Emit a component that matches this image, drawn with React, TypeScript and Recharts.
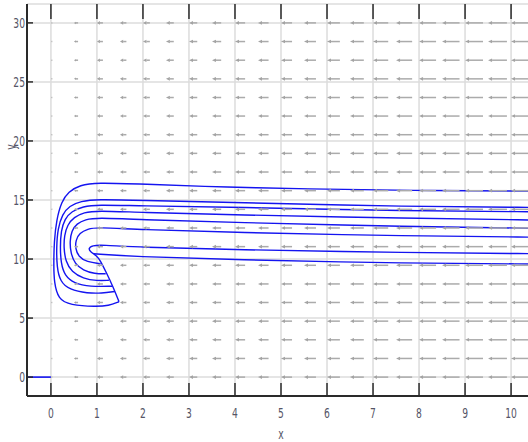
import React from 'react';
import {
  ComposedChart, XAxis, YAxis, CartesianGrid, Line, Scatter, Label,
} from 'recharts';

// ---- axes ----
const X_DOMAIN: [number, number] = [-0.52, 10.52];
const Y_DOMAIN: [number, number] = [-1.6, 31.6];
const X_TICKS = [0, 1, 2, 3, 4, 5, 6, 7, 8, 9, 10];
const Y_TICKS = [0, 5, 10, 15, 20, 25, 30];

// ---- vector field (quiver) ----
const ARROW_COLS = [0, 0.5, 1, 1.5, 2, 2.5, 3, 3.5, 4, 4.5, 5, 5.5, 6, 6.5, 7, 7.5, 8, 8.5, 9, 9.5, 10, 10.5];
// horizontal (leftward) magnitude of the arrows per column, in x units
const ARROW_U = [0.03, 0.09, 0.13, 0.14, 0.15, 0.17, 0.18, 0.2, 0.22, 0.23, 0.24, 0.26, 0.28, 0.3, 0.33, 0.35, 0.37, 0.38, 0.39, 0.41, 0.42, 0.43];
const ARROW_ROWS = [0, 1.58, 3.16, 4.74, 6.32, 7.89, 9.47, 11.05, 12.63, 14.21, 15.79, 17.37, 18.95, 20.53, 22.11, 23.68, 25.26, 26.84, 28.42, 30];

// ---- trajectories ----
const TRAJ_1 = [
  { x: 10.6, y: 15.75 }, { x: 7.8, y: 15.8 }, { x: 5.5, y: 15.95 }, { x: 3.9, y: 16.07 }, { x: 1.9, y: 16.36 },
  { x: 1.0, y: 16.47 }, { x: 0.63, y: 16.27 }, { x: 0.38, y: 15.7 }, { x: 0.23, y: 14.86 }, { x: 0.12, y: 13.3 },
  { x: 0.07, y: 11.5 }, { x: 0.06, y: 9.5 }, { x: 0.07, y: 8.0 }, { x: 0.16, y: 6.6 }, { x: 0.41, y: 6.1 },
  { x: 0.99, y: 5.96 }, { x: 1.25, y: 6.05 }, { x: 1.48, y: 6.38 },
];
const TRAJ_2 = [
  { x: 10.6, y: 14.37 }, { x: 7.8, y: 14.43 }, { x: 3.9, y: 14.8 }, { x: 1.9, y: 14.98 }, { x: 1.0, y: 15.06 },
  { x: 0.65, y: 14.9 }, { x: 0.4, y: 14.5 }, { x: 0.25, y: 13.8 }, { x: 0.15, y: 12.6 }, { x: 0.12, y: 11 },
  { x: 0.13, y: 9.3 }, { x: 0.2, y: 8.1 }, { x: 0.4, y: 7.4 }, { x: 0.8, y: 7.1 }, { x: 1.1, y: 7.1 }, { x: 1.39, y: 7.25 },
];
const TRAJ_3 = [
  { x: 10.6, y: 14.0 }, { x: 7.8, y: 14.07 }, { x: 3.9, y: 14.4 }, { x: 1.9, y: 14.5 }, { x: 1.0, y: 14.6 },
  { x: 0.7, y: 14.45 }, { x: 0.45, y: 14.05 }, { x: 0.3, y: 13.4 }, { x: 0.22, y: 12.4 }, { x: 0.2, y: 11 },
  { x: 0.22, y: 9.6 }, { x: 0.3, y: 8.6 }, { x: 0.5, y: 7.95 }, { x: 0.85, y: 7.65 }, { x: 1.33, y: 7.7 },
];
const TRAJ_4 = [
  { x: 10.6, y: 13.3 }, { x: 7.8, y: 13.45 }, { x: 3.9, y: 13.75 }, { x: 1.9, y: 13.95 }, { x: 1.0, y: 14.1 },
  { x: 0.72, y: 13.95 }, { x: 0.5, y: 13.55 }, { x: 0.36, y: 12.9 }, { x: 0.29, y: 12 }, { x: 0.28, y: 10.9 },
  { x: 0.32, y: 9.8 }, { x: 0.45, y: 8.9 }, { x: 0.7, y: 8.35 }, { x: 1.0, y: 8.15 }, { x: 1.26, y: 8.2 },
];
const TRAJ_5 = [
  { x: 10.6, y: 12.6 }, { x: 7.8, y: 12.74 }, { x: 3.9, y: 13.1 }, { x: 1.9, y: 13.35 }, { x: 1.0, y: 13.5 },
  { x: 0.75, y: 13.35 }, { x: 0.56, y: 13.0 }, { x: 0.45, y: 12.4 }, { x: 0.41, y: 11.5 }, { x: 0.43, y: 10.5 },
  { x: 0.52, y: 9.6 }, { x: 0.7, y: 9.05 }, { x: 0.95, y: 8.75 }, { x: 1.19, y: 8.75 },
];
const TRAJ_6 = [
  { x: 10.6, y: 11.85 }, { x: 7.8, y: 11.95 }, { x: 3.9, y: 12.25 }, { x: 1.9, y: 12.5 }, { x: 1.0, y: 12.7 },
  { x: 0.8, y: 12.55 }, { x: 0.62, y: 12.2 }, { x: 0.54, y: 11.6 }, { x: 0.53, y: 10.9 }, { x: 0.6, y: 10.2 },
  { x: 0.78, y: 9.75 }, { x: 1.08, y: 9.6 },
];
const TRAJ_7 = [
  { x: 10.6, y: 10.45 }, { x: 7.8, y: 10.53 }, { x: 3.9, y: 10.8 }, { x: 1.9, y: 11.0 }, { x: 1.1, y: 11.2 },
  { x: 0.9, y: 11.15 }, { x: 0.81, y: 10.9 }, { x: 0.86, y: 10.6 }, { x: 0.99, y: 10.3 }, { x: 1.07, y: 9.9 },
  { x: 1.21, y: 8.8 }, { x: 1.35, y: 7.65 }, { x: 1.48, y: 6.38 },
];
const TRAJ_8 = [
  { x: 0.93, y: 10.45 }, { x: 1.8, y: 10.2 }, { x: 3.9, y: 9.95 }, { x: 7.8, y: 9.63 }, { x: 10.6, y: 9.58 },
];
const BASE_LINE = [{ x: -0.52, y: 0 }, { x: 0, y: 0 }];

const TRAJECTORIES = [TRAJ_1, TRAJ_2, TRAJ_3, TRAJ_4, TRAJ_5, TRAJ_6, TRAJ_7, TRAJ_8];

const ARROWS = ARROW_ROWS.flatMap((y) => ARROW_COLS.map((x, i) => ({ x, y, u: ARROW_U[i] })));

// ---- layout ----
const W = 540;
const H = 442;
const MARGIN = { top: 4, right: 5, bottom: 16, left: 0 };
const Y_AXIS_W = 27;
const X_AXIS_H = 30;
const PLOT_W = W - MARGIN.right - MARGIN.left - Y_AXIS_W;
const PLOT_H = H - MARGIN.top - MARGIN.bottom - X_AXIS_H;
const PX_PER_X = PLOT_W / (X_DOMAIN[1] - X_DOMAIN[0]);

const FONT = "'DejaVu Sans', 'Liberation Sans', sans-serif";
const AXIS_COLOR = '#2a2a2a';
const TEXT_COLOR = '#555566';
const BLUE = '#1414f0';

const NarrowText = ({ x, y, anchor, rotate, children }: any) => (
  <text
    transform={`translate(${x},${y})${rotate ? ` rotate(${rotate})` : ''} scale(0.68,1)`}
    textAnchor={anchor}
    fontFamily={FONT}
    fontSize={13.5}
    fill={TEXT_COLOR}
  >
    {children}
  </text>
);

const ArrowShape = (props: any) => {
  const { cx, cy, payload } = props;
  if (cx == null || cy == null) return null;
  const len = payload.u * PX_PER_X;
  const head = Math.min(4, len * 0.5);
  const hw = Math.min(1.8, len * 0.3);
  return (
    <g>
      <line x1={cx + head} y1={cy} x2={cx + len} y2={cy} stroke="#ababab" strokeWidth={1.5} />
      <polygon points={`${cx},${cy} ${cx + head},${cy - hw} ${cx + head},${cy + hw}`} fill="#a4a4a4" />
    </g>
  );
};

const XTick = (props: any) => {
  const { x, y, payload } = props;
  return (
    <g>
      <line x1={x} y1={y} x2={x} y2={y - 13} stroke={AXIS_COLOR} strokeWidth={1.5} />
      <line x1={x} y1={y - PLOT_H} x2={x} y2={y - PLOT_H + 15} stroke={AXIS_COLOR} strokeWidth={1.5} />
      <NarrowText x={x} y={y + 22} anchor="middle">{payload.value}</NarrowText>
    </g>
  );
};

const YTick = (props: any) => {
  const { x, y, payload } = props;
  return (
    <g>
      <line x1={x} y1={y} x2={x + 6} y2={y} stroke={AXIS_COLOR} strokeWidth={1.5} />
      <NarrowText x={x - 2} y={y + 5} anchor="end">{payload.value}</NarrowText>
    </g>
  );
};

export default function App() {
  return (
    <div style={{ position: 'absolute', left: 0, top: 0, width: 528, height: 442, overflow: 'hidden', background: '#fff' }}>
      <ComposedChart width={W} height={H} margin={MARGIN}>
        <CartesianGrid stroke="#dcdcdc" strokeWidth={1.5} />
        <XAxis
          type="number"
          dataKey="x"
          domain={X_DOMAIN}
          allowDataOverflow
          ticks={X_TICKS}
          interval={0}
          height={X_AXIS_H}
          tickSize={0}
          tickMargin={0}
          tickLine={false}
          axisLine={{ stroke: AXIS_COLOR, strokeWidth: 2 }}
          tick={<XTick />}
        >
          <Label content={() => <NarrowText x={281} y={439} anchor="middle">x</NarrowText>} />
        </XAxis>
        <XAxis
          xAxisId="top"
          orientation="top"
          type="number"
          dataKey="x"
          domain={X_DOMAIN}
          allowDataOverflow
          height={0}
          tick={false}
          tickLine={false}
          axisLine={{ stroke: AXIS_COLOR, strokeWidth: 2 }}
        />
        <YAxis
          type="number"
          dataKey="y"
          domain={Y_DOMAIN}
          allowDataOverflow
          ticks={Y_TICKS}
          interval={0}
          width={Y_AXIS_W}
          tickSize={0}
          tickMargin={0}
          tickLine={false}
          axisLine={{ stroke: AXIS_COLOR, strokeWidth: 2 }}
          tick={<YTick />}
        >
          <Label content={() => <NarrowText x={16} y={147} anchor="middle" rotate={-90}>y</NarrowText>} />
        </YAxis>
        <Scatter data={ARROWS} dataKey="y" shape={ArrowShape} isAnimationActive={false} />
        {TRAJECTORIES.map((d, i) => (
          <Line
            key={i}
            data={d}
            dataKey="y"
            type="basis"
            stroke={BLUE}
            strokeWidth={1.4}
            dot={false}
            activeDot={false}
            isAnimationActive={false}
          />
        ))}
        <Line data={BASE_LINE} dataKey="y" type="linear" stroke={BLUE} strokeWidth={1.6} dot={false} activeDot={false} isAnimationActive={false} />
      </ComposedChart>
    </div>
  );
}
